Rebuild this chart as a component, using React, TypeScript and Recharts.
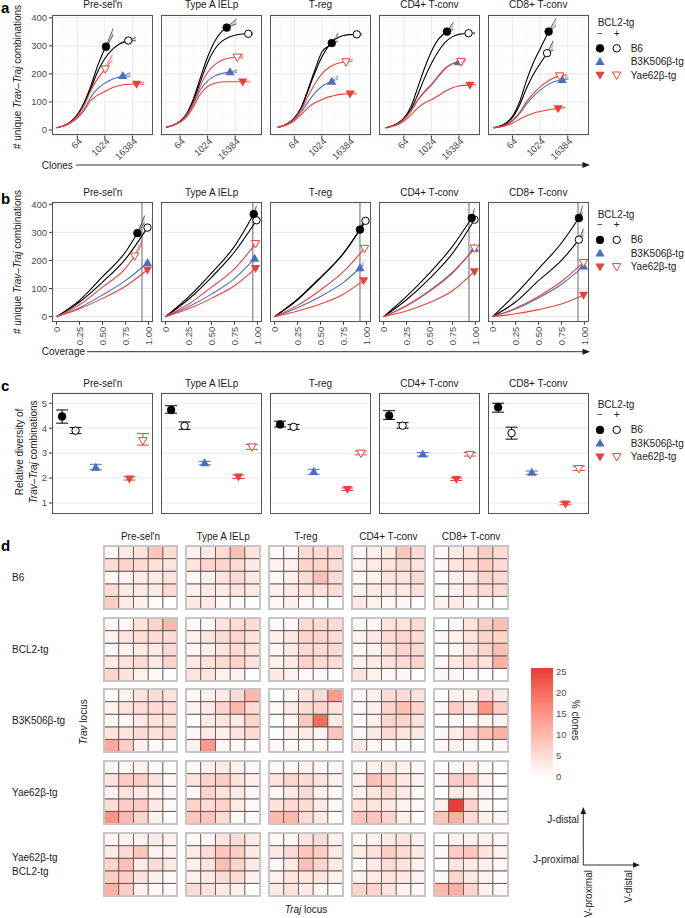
import React from "react";
import {
  ComposedChart, Line, Area, Scatter, XAxis, YAxis, CartesianGrid,
  ReferenceLine, ErrorBar, BarChart, Bar, Cell,
} from "recharts";

const FONT = "'Liberation Sans', Arial, Helvetica, sans-serif";
const BLACK = "#000000";
const BLUE = "#4A6EBD";
const RED = "#E8413A";
const TICK = "#4D4D4D";

const facetTitles = ["Pre-sel'n", "Type A IELp", "T-reg", "CD4+ T-conv", "CD8+ T-conv"];

// ---------- Panel a : log2(clones) vs unique Trav-Traj combinations ----------
const aB6neg = [
  [[3,8],[4,15],[5,29],[6,55],[7,98],[8,160],[9,232],[10,290],[10.16,297]],
  [[4,10],[5,17],[6,31],[7,60],[8,115],[9,190],[10,260],[11,315],[12,350],[12.77,365]],
  [[3.6,9],[4,12],[5,22],[6,42],[7,80],[8,145],[9,215],[10,278],[11,300],[11.44,310]],
  [[3.36,8],[4,12],[5,22],[6,42],[7,82],[8,150],[9,220],[10,280],[11,323],[12,346],[12.27,351]],
  [[3.24,8],[4,12],[5,24],[6,50],[7,100],[8,175],[9,240],[10,290],[11,340],[11.23,351]],
];
const aB6pos = [
  [[3,8],[4,15],[5,28],[6,53],[7,95],[8,150],[9,210],[10,255],[11,285],[12,305],[13,316],[13.4,319]],
  [[4,10],[5,17],[6,31],[7,58],[8,108],[9,175],[10,240],[11,287],[12,315],[13,330],[14,338],[15,342],[15.9,343]],
  [[3.6,9],[4,12],[5,22],[6,42],[7,78],[8,140],[9,205],[10,260],[11,300],[12,325],[13,336],[14,340],[15.07,341]],
  [[3.36,8],[4,12],[5,21],[6,40],[7,72],[8,125],[9,185],[10,237],[11,280],[12,312],[13,332],[14,341],[15.4,345]],
  [[3.24,8],[4,12],[5,23],[6,45],[7,88],[8,148],[9,198],[10,237],[11,274]],
];
const aB3K = [
  [[3,8],[4,14],[5,26],[6,45],[7,75],[8,118],[9,148],[10,167],[11,180],[12,188],[12.6,193]],
  [[4,10],[5,17],[6,29],[7,52],[8,95],[9,145],[10,175],[11,192],[12,201],[13,206],[13.25,207]],
  [[3.6,9],[4,12],[5,20],[6,37],[7,64],[8,100],[9,132],[10,155],[11,168],[11.44,173]],
  [[3.36,8],[4,12],[5,20],[6,38],[7,66],[8,105],[9,135],[10,160],[11,190],[12,218],[13,235],[13.95,242]],
  [[3.24,8],[4,11],[5,18],[6,33],[7,58],[8,92],[9,120],[10,142],[11,160],[12,172],[13.18,179]],
];
const aYaePos = [
  [[3,8],[4,15],[5,27],[6,50],[7,88],[8,143],[9,185],[10.06,218]],
  [[4,10],[5,17],[6,30],[7,55],[8,100],[9,160],[10,205],[11,232],[12,248],[13,256],[14.3,260]],
  [[3.6,9],[4,12],[5,21],[6,40],[7,72],[8,120],[9,165],[10,200],[11,222],[12,235],[13,241],[13.5,243]],
  [[3.36,8],[4,12],[5,20],[6,38],[7,67],[8,107],[9,138],[10,163],[11,193],[12,220],[13,236],[14.3,244]],
  [[3.24,8],[4,11],[5,19],[6,35],[7,62],[8,100],[9,130],[10,154],[11,172],[12,186],[12.83,193]],
];
const aYaeNeg = [
  [[3,8],[4,14],[5,25],[6,42],[7,70],[8,106],[9,125],[10,137],[11,150],[12,158],[13,162],[14.6,164]],
  [[4,10],[5,17],[6,28],[7,48],[8,85],[9,130],[10,155],[11,167],[12,171],[13,172],[15.1,172]],
  [[3.6,9],[4,12],[5,19],[6,33],[7,55],[8,80],[9,97],[10,108],[11,118],[12,124],[13,128],[14.1,129]],
  [[3.36,8],[4,11],[5,18],[6,32],[7,53],[8,78],[9,96],[10,108],[11,122],[12,138],[13,150],[14,157],[15.6,161]],
  [[3.24,8],[4,10],[5,15],[6,25],[7,38],[8,50],[9,60],[10,66],[11,71],[12,75],[12.6,77]],
];
// extrapolation bands [x, low, high]
const aBandB6neg = [[[10.7,315,332],[11.2,340,362]],[[13.5,372,382],[14.2,378,395]],[[12.35,315,345]],[[13.2,358,385]],[[12.3,372,398]]];
const aBandB6pos = [[[14.5,318,330]],[[16.6,340,348]],[[15.8,338,345]],[[16.36,343,348]],[[11.9,285,318]]];
const aBandB3K = [[[13.7,190,205]],[[14.3,205,215]],[[12.35,180,195]],[[14.6,238,248]],[[14.1,180,188]]];
const aBandYaePos = [[[10.6,235,250],[11.1,245,268]],[[15.15,255,272]],[[14.5,245,255]],[[15.0,242,250]],[[13.9,192,198]]];
const aBandYaeNeg = [[[15.7,162,172]],[[16.2,170,176]],[[15.07,127,133]],[[16.5,160,164]],[[13.66,78,82]]];
const aXLeft = [2.32, 3.23, 2.47, 2.39, 2.42];
const aXSpan = 14.67;
const aXTicks = [6, 10, 14];
const aXMinor = [4, 8, 12, 16];
const aYTicks = [0, 100, 200, 300, 400];
const aYMinor = [50, 150, 250, 350];

// ---------- Panel b : coverage vs unique combinations ----------
const bB6neg = [
  [[0,0],[0.25,58],[0.5,142],[0.75,230],[0.88,297]],
  [[0,0],[0.25,70],[0.5,155],[0.75,250],[0.96,365]],
  [[0,0],[0.25,62],[0.5,140],[0.75,225],[0.93,310]],
  [[0,0],[0.25,72],[0.5,155],[0.75,250],[0.96,351]],
  [[0,0],[0.25,80],[0.5,170],[0.75,262],[0.94,351]],
];
const bB6pos = [
  [[0,0],[0.25,52],[0.5,123],[0.75,205],[0.99,317]],
  [[0,0],[0.25,62],[0.5,140],[0.75,230],[0.99,343]],
  [[0,0],[0.25,60],[0.5,138],[0.75,225],[0.99,341]],
  [[0,0],[0.25,60],[0.5,135],[0.75,225],[0.99,345]],
  [[0,0],[0.25,52],[0.5,128],[0.75,200],[0.94,274]],
];
const bB3K = [
  [[0,0],[0.25,32],[0.5,77],[0.75,128],[0.99,192]],
  [[0,0],[0.25,35],[0.5,80],[0.75,135],[0.97,207]],
  [[0,0],[0.25,32],[0.5,72],[0.75,122],[0.93,173]],
  [[0,0],[0.25,40],[0.5,92],[0.75,158],[0.99,242]],
  [[0,0],[0.25,27],[0.5,66],[0.75,115],[0.99,179]],
];
const bYaePos = [
  [[0,0],[0.25,42],[0.5,105],[0.75,172],[0.85,216]],
  [[0,0],[0.25,45],[0.5,105],[0.75,170],[0.98,260]],
  [[0,0],[0.25,40],[0.5,95],[0.75,160],[0.98,243]],
  [[0,0],[0.25,38],[0.5,90],[0.75,155],[0.99,244]],
  [[0,0],[0.25,30],[0.5,72],[0.75,125],[0.99,193]],
];
const bYaeNeg = [
  [[0,0],[0.25,28],[0.5,65],[0.75,108],[0.99,167]],
  [[0,0],[0.25,28],[0.5,65],[0.75,110],[0.98,172]],
  [[0,0],[0.25,20],[0.5,45],[0.75,80],[0.97,129]],
  [[0,0],[0.25,20],[0.5,50],[0.75,92],[0.99,161]],
  [[0,0],[0.25,10],[0.5,25],[0.75,45],[0.99,77]],
];
const bBandB6neg = [[[0.96,335,360]],[[0.99,375,395]],[[0.97,325,345]],[[0.99,360,385]],[[0.98,370,395]]];
const bBandB6pos = [[],[],[],[],[[0.99,290,312]]];
const bBandB3K = [[],[],[[0.97,180,195]],[],[]];
const bBandYaePos = [[[0.93,255,272]],[],[],[],[]];
const bBandYaeNeg = [[],[],[],[],[]];
const bThreshold = [0.93, 0.95, 0.93, 0.93, 0.93];
const bXTicks = [0, 0.25, 0.5, 0.75, 1];

// ---------- Panel c : relative diversity [value, low, high] ----------
const cB6neg = [[4.47,4.2,4.73],[4.73,4.6,4.9],[4.15,4.05,4.28],[4.5,4.35,4.7],[4.84,4.64,5.0]];
const cB6pos = [[3.9,3.78,4.03],[4.09,3.95,4.25],[4.05,3.95,4.15],[4.1,4.0,4.22],[3.8,3.56,4.04]];
const cB3K = [[2.42,2.33,2.55],[2.6,2.53,2.67],[2.25,2.15,2.35],[2.95,2.88,3.02],[2.22,2.15,2.28]];
const cYaeNeg = [[1.97,1.92,2.05],[2.05,1.98,2.12],[1.55,1.5,1.6],[1.95,1.9,2.0],[0.97,0.93,1.03]];
const cYaePos = [[3.5,3.32,3.78],[3.25,3.15,3.35],[3.0,2.93,3.08],[2.95,2.88,3.02],[2.38,2.3,2.48]];
const cXPos: Record<string, number> = { "B6-": 0.8, "B6+": 1.2, "B3K-": 1.8, "Yae-": 2.8, "Yae+": 3.2 };
const cYTicks = [1, 2, 3, 4, 5];

// ---------- Panel d : % clones heatmaps (rows top=J-distal, cols left=V-proximal) ----------
const heatRowLabels = [["B6"], ["BCL2-tg"], ["B3K506β-tg"], ["Yae62β-tg"], ["Yae62β-tg", "BCL2-tg"]];
const heatB6 = [
  [[1,3,4,8,5],[5,6,5,4,4],[1,2,3,3,4],[5,3,3,3,5],[7,3,2,0.5,0]],
  [[2,3,5,9,4],[4,6,6,5,3],[1,2,4,5,3],[2,3,3,4,3],[3,3,1,1,0]],
  [[1,1,5,5,5],[2,2,6,6,5],[1,2,5,9,5],[2,3,4,4,5],[1,2,1,0,0]],
  [[1,2,3,8,5],[2,3,4,5,4],[1,2,4,4,5],[2,3,3,3,4],[3,2,1,1,0]],
  [[1,3,4,7,5],[1,4,5,7,5],[0,2,3,6,5],[1,2,4,5,5],[2,3,1,0.5,0]],
];
const heatBCL2 = [
  [[1,1,4,6,10],[2,4,5,5,5],[1,2,3,3,5],[3,4,5,3,6],[6,4,2,1,0]],
  [[1,1,4,5,5],[2,4,5,6,4],[1,2,4,5,4],[3,4,5,6,4],[4,4,2,2,0]],
  [[1,1,5,5,5],[2,3,6,6,5],[1,3,5,5,5],[2,3,6,5,5],[3,2,1,1,0]],
  [[1,1,4,4,5],[2,3,5,6,5],[1,2,4,6,5],[2,3,4,5,6],[4,2,1,1,0]],
  [[0,1,4,7,9],[1,2,4,6,6],[0,1,4,6,9],[1,3,5,4,11],[1,1,0.5,0.5,0]],
];
const heatB3K = [
  [[0.5,2,4,5,4],[2,4,5,5,5],[1,1,3,4,4],[4,4,5,4,5],[12,7,2,1,0]],
  [[1,2,3,5,10],[2,3,6,10,5],[0,3,4,3,6],[1,3,2,4,5],[2,14,1,1,0]],
  [[0,1,4,5,14],[1,3,5,6,4],[0,1,8,20,3],[0,2,3,2,8],[1,0.5,1,1,0]],
  [[1,2,5,5,4],[1,2,6,9,6],[0,2,6,6,4],[1,3,5,4,3],[3,1,1,0.5,0]],
  [[0,2,2,5,3],[1,7,4,15,7],[0,1,1,2,2],[1,3,6,9,11],[1,2,1,0.5,1]],
];
const heatYae = [
  [[1,1,2,1,0],[4,7,7,4,1],[2,4,3,2,1],[5,7,7,3,1],[15,10,6,2,0]],
  [[1,2,3,2,1],[4,6,7,4,2],[1,6,4,3,1],[6,5,6,3,1],[8,8,5,1,1]],
  [[1,1,2,1,1],[4,6,5,4,2],[1,3,5,2,1],[4,5,5,3,1],[10,10,5,3,0]],
  [[1,2,3,2,1],[2,9,6,3,2],[2,4,5,3,1],[4,4,3,2,1],[8,8,6,2,0]],
  [[0,1,2,1,0],[1,7,7,2,0],[0,3,2,1,0],[2,25,6,1,0],[8,11,5,2,1]],
];
const heatYaeBCL2 = [
  [[1,2,2,3,2],[3,5,8,2,2],[6,9,3,5,3],[7,7,4,2,1],[11,7,2,1,0.5]],
  [[1,1,4,5,3],[3,5,8,7,3],[2,4,9,6,3],[2,3,5,5,2],[5,4,3,2,0]],
  [[1,1,4,5,2],[3,5,8,7,3],[1,3,9,6,3],[2,4,4,4,2],[3,4,3,1,0]],
  [[1,2,3,4,2],[3,4,7,5,3],[1,3,5,4,2],[2,3,4,3,2],[6,6,4,2,1]],
  [[0,2,2,2,1],[1,7,8,4,2],[0,4,3,2,1],[1,6,3,2,0.5],[10,11,6,2,1]],
];
const heatAll = [heatB6, heatBCL2, heatB3K, heatYae, heatYaeBCL2];
const cbTicks = [0, 5, 10, 15, 20, 25];
const cbLimits: [number, number] = [-0.36, 25.83];

// ---------- styling/layout ----------
const SERIES = [
  { key: "B6+", color: BLACK, marker: "openCircle" },
  { key: "B6-", color: BLACK, marker: "circle" },
  { key: "B3K-", color: BLUE, marker: "triUp" },
  { key: "Yae+", color: RED, marker: "openTriDown" },
  { key: "Yae-", color: RED, marker: "triDown" },
];
const FACET_LEFT = [52.3, 161.2, 270.0, 378.9, 487.7];
const FACET_W = 101;
const HEAT_LEFT = [103.7, 186.3, 269.0, 351.6, 434.3];
const HEAT_TOP = [546, 617.7, 689.3, 761, 832.6];
const PAD = 7;

// Lab-space gradient white -> red (like ggplot scale_fill_gradient)
function toLin(c: number) { c /= 255; return c <= 0.04045 ? c / 12.92 : Math.pow((c + 0.055) / 1.055, 2.4); }
function fromLin(c: number) { const v = c <= 0.0031308 ? 12.92 * c : 1.055 * Math.pow(c, 1 / 2.4) - 0.055; return Math.round(Math.max(0, Math.min(1, v)) * 255); }
function labF(t: number) { return t > 0.008856 ? Math.cbrt(t) : 7.787 * t + 16 / 116; }
function labFi(t: number) { const t3 = t * t * t; return t3 > 0.008856 ? t3 : (t - 16 / 116) / 7.787; }
function rgbToLab(rgb: number[]) {
  const [r, g, b] = rgb.map(toLin);
  const X = (0.4124 * r + 0.3576 * g + 0.1805 * b) / 0.95047;
  const Y = 0.2126 * r + 0.7152 * g + 0.0722 * b;
  const Z = (0.0193 * r + 0.1192 * g + 0.9505 * b) / 1.08883;
  const fx = labF(X), fy = labF(Y), fz = labF(Z);
  return [116 * fy - 16, 500 * (fx - fy), 200 * (fy - fz)];
}
function labToRgb(lab: number[]) {
  const fy = (lab[0] + 16) / 116, fx = fy + lab[1] / 500, fz = fy - lab[2] / 200;
  const X = labFi(fx) * 0.95047, Y = labFi(fy), Z = labFi(fz) * 1.08883;
  const r = 3.2406 * X - 1.5372 * Y - 0.4986 * Z;
  const g = -0.9689 * X + 1.8758 * Y + 0.0415 * Z;
  const b = 0.0557 * X - 0.204 * Y + 1.057 * Z;
  return [fromLin(r), fromLin(g), fromLin(b)];
}
const LAB_LO = rgbToLab([255, 255, 255]);
const LAB_HI = rgbToLab([232, 65, 58]);
function heatColor(v: number) {
  const t = Math.max(0, Math.min(1, v / 25));
  const lab = LAB_LO.map((a, i) => a + (LAB_HI[i] - a) * t);
  const [r, g, b] = labToRgb(lab);
  return `rgb(${r},${g},${b})`;
}

function Marker({ kind, cx, cy, color }: { kind: string; cx: number; cy: number; color: string }) {
  if (kind === "circle") return <circle cx={cx} cy={cy} r={3.9} fill={color} stroke={color} strokeWidth={0.6} />;
  if (kind === "openCircle") return <circle cx={cx} cy={cy} r={3.7} fill="#fff" stroke={color} strokeWidth={1} />;
  if (kind === "triUp") return <polygon points={`${cx},${cy - 4.8} ${cx - 4.6},${cy + 3.2} ${cx + 4.6},${cy + 3.2}`} fill={color} />;
  if (kind === "triDown") return <polygon points={`${cx},${cy + 4.8} ${cx - 4.6},${cy - 3.2} ${cx + 4.6},${cy - 3.2}`} fill={color} />;
  return <polygon points={`${cx},${cy + 4.4} ${cx - 4.2},${cy - 3} ${cx + 4.2},${cy - 3}`} fill="#fff" stroke={color} strokeWidth={1} />;
}

function makeTick(kind: "rot45" | "rot90", fmt: (v: number) => string) {
  return (p: any) => {
    const ax = kind === "rot45" ? p.x + 3 : p.x;
    const ay = kind === "rot45" ? p.y - 1 : p.y;
    return (
      <text x={ax} y={ay} transform={`rotate(${kind === "rot45" ? -45 : -90} ${ax} ${ay})`} textAnchor="end"
        dy="0.35em" fontSize={9.5} fill={TICK} fontFamily={FONT}>
        {fmt(p.payload.value)}
      </text>
    );
  };
}

function bandColor(c: string) {
  return c === BLACK ? "#808080" : c;
}

type CurveProps = {
  left: number; top: number; h: number; showY: boolean;
  xDomain: [number, number]; yDomain: [number, number];
  xTicks: number[]; yTicks: number[]; xMinor: number[]; yMinor: number[];
  vGrid: boolean; vline?: number;
  curves: Record<string, number[][]>; bands: Record<string, number[][]>;
  tickKind: "rot45" | "rot90"; fmt: (v: number) => string;
};

function CurveFacet(p: CurveProps) {
  const yW = p.showY ? 42 : 0;
  const xH = 32;
  return (
    <div style={{ position: "absolute", left: p.left - yW, top: p.top - PAD }}>
      <ComposedChart width={FACET_W + yW} height={p.h + xH + PAD} margin={{ top: PAD, right: 0, bottom: 0, left: 0 }}>
        <CartesianGrid stroke="#EBEBEB" strokeWidth={1.1} vertical={p.vGrid} horizontal />
        {p.yMinor.map((v) => <ReferenceLine key={"ym" + v} y={v} stroke="#F4F4F4" strokeWidth={0.7} />)}
        {p.xMinor.map((v) => <ReferenceLine key={"xm" + v} x={v} stroke="#F4F4F4" strokeWidth={0.7} />)}
        <XAxis type="number" dataKey="x" domain={p.xDomain} allowDataOverflow ticks={p.xTicks} interval={0}
          tick={makeTick(p.tickKind, p.fmt)} tickSize={3} tickMargin={2} tickLine={{ stroke: "#333" }}
          axisLine={false} height={xH} />
        <YAxis type="number" domain={p.yDomain} allowDataOverflow ticks={p.yTicks} interval={0} hide={!p.showY}
          width={yW} tickSize={3} tickMargin={2} tickLine={{ stroke: "#333" }} axisLine={false}
          tick={{ fontSize: 9.5, fill: TICK, fontFamily: FONT }} />
        {p.vline !== undefined && <ReferenceLine x={p.vline} stroke="#666" strokeWidth={1} />}
        {SERIES.map((s) => {
          const c = p.curves[s.key];
          const last = c[c.length - 1];
          const b = p.bands[s.key];
          if (!b.length) return null;
          const data = [{ x: last[0], band: [last[1], last[1]] }, ...b.map((r) => ({ x: r[0], band: [r[1], r[2]] }))];
          return (
            <Area key={"b" + s.key} data={data} dataKey="band" type="monotone" fill={bandColor(s.color)}
              fillOpacity={0.35} stroke={s.color} strokeWidth={0.6} isAnimationActive={false} />
          );
        })}
        {SERIES.map((s) => (
          <Line key={"l" + s.key} data={p.curves[s.key].map((r) => ({ x: r[0], y: r[1] }))} dataKey="y"
            type="monotone" stroke={s.color} strokeWidth={1.1} dot={false} isAnimationActive={false} />
        ))}
        {SERIES.map((s) => {
          const c = p.curves[s.key];
          const last = c[c.length - 1];
          return (
            <Scatter key={"p" + s.key} data={[{ x: last[0], y: last[1] }]} dataKey="y" isAnimationActive={false}
              shape={(sp: any) => <Marker kind={s.marker} cx={sp.cx} cy={sp.cy} color={s.color} />} />
          );
        })}
      </ComposedChart>
      <div style={{ position: "absolute", left: yW, top: PAD, width: FACET_W, height: p.h, border: "1.2px solid #555",
        boxSizing: "border-box", pointerEvents: "none" }} />
    </div>
  );
}

function DiversityFacet({ idx, left, top, h }: { idx: number; left: number; top: number; h: number }) {
  const showY = idx === 0;
  const yW = showY ? 42 : 0;
  const src: Record<string, number[][]> = { "B6-": cB6neg, "B6+": cB6pos, "B3K-": cB3K, "Yae-": cYaeNeg, "Yae+": cYaePos };
  return (
    <div style={{ position: "absolute", left: left - yW, top: top - PAD }}>
      <ComposedChart width={FACET_W + yW} height={h + 2 * PAD} margin={{ top: PAD, right: 0, bottom: PAD, left: 0 }}>
        <CartesianGrid stroke="#EBEBEB" strokeWidth={1.1} vertical={false} />
        <XAxis type="number" dataKey="x" domain={[0.5, 3.5]} hide />
        <YAxis type="number" domain={[0.57, 5.41]} allowDataOverflow ticks={cYTicks} interval={0} hide={!showY}
          width={yW} tickSize={3} tickMargin={2} tickLine={{ stroke: "#333" }} axisLine={false}
          tick={{ fontSize: 9.5, fill: TICK, fontFamily: FONT }} />
        {SERIES.map((s) => {
          const v = src[s.key][idx];
          return (
            <Scatter key={s.key} data={[{ x: cXPos[s.key], y: v[0], err: [v[0] - v[1], v[2] - v[0]] }]} dataKey="y"
              isAnimationActive={false}
              shape={(sp: any) => <Marker kind={s.marker} cx={sp.cx} cy={sp.cy} color={s.color} />}>
              <ErrorBar dataKey="err" direction="y" width={6} stroke={s.color} strokeWidth={1} />
            </Scatter>
          );
        })}
      </ComposedChart>
      <div style={{ position: "absolute", left: yW, top: PAD, width: FACET_W, height: h, border: "1.2px solid #555",
        boxSizing: "border-box", pointerEvents: "none" }} />
    </div>
  );
}

function HeatGrid({ left, top, grid }: { left: number; top: number; grid: number[][] }) {
  const w = 73.6, h = 63;
  const data = [0, 1, 2, 3, 4].map((c) => ({ c, r0: 1, r1: 1, r2: 1, r3: 1, r4: 1 }));
  return (
    <div style={{ position: "absolute", left, top }}>
      <BarChart width={w} height={h} data={data} margin={{ top: 0, right: 0, bottom: 0, left: 0 }} barCategoryGap={0} barGap={0}>
        <XAxis dataKey="c" hide />
        <YAxis type="number" hide domain={[0, 5]} />
        {[0, 1, 2, 3, 4].map((k) => (
          <Bar key={k} dataKey={`r${k}`} stackId="s" isAnimationActive={false} stroke="#4A4A4A" strokeWidth={0.8}>
            {data.map((d, ci) => <Cell key={ci} fill={heatColor(grid[4 - k][ci])} />)}
          </Bar>
        ))}
      </BarChart>
      <div style={{ position: "absolute", left: -1, top: -1, width: w + 2, height: h + 2, border: "2px solid #C6C6C6",
        boxSizing: "border-box", pointerEvents: "none" }} />
    </div>
  );
}

function ColorBar() {
  const data = [{ k: "bar", v: [cbLimits[0], cbLimits[1]] }];
  const stops = [0, 2.5, 5, 7.5, 10, 12.5, 15, 17.5, 20, 22.5, 25];
  return (
    <div style={{ position: "absolute", left: 531, top: 668 - PAD }}>
      <BarChart width={60} height={110 + 2 * PAD} data={data} margin={{ top: PAD, right: 0, bottom: PAD, left: 0 }} barCategoryGap={0}>
        <defs>
          <linearGradient id="cbg" x1="0" y1="1" x2="0" y2="0">
            {stops.map((s) => (
              <stop key={s} offset={(s - cbLimits[0]) / (cbLimits[1] - cbLimits[0])} stopColor={heatColor(s)} />
            ))}
          </linearGradient>
        </defs>
        <XAxis dataKey="k" hide />
        <YAxis orientation="right" type="number" width={38} domain={cbLimits} allowDataOverflow ticks={cbTicks}
          interval={0} tickLine={false} axisLine={false} tickSize={0} tickMargin={3}
          tick={{ fontSize: 9.5, fill: TICK, fontFamily: FONT }} />
        <Bar dataKey="v" fill="url(#cbg)" isAnimationActive={false} />
      </BarChart>
    </div>
  );
}

function LegendBlock({ y }: { y: number }) {
  const rows = [y + 25.6, y + 39, y + 52.3];
  return (
    <g fontFamily={FONT} fontSize={10} fill="#1A1A1A">
      <text x={597.7} y={y + 3.5}>BCL2-tg</text>
      <text x={600} y={y + 13.8} textAnchor="middle">−</text>
      <text x={616.7} y={y + 13.8} textAnchor="middle">+</text>
      <Marker kind="circle" cx={600} cy={rows[0]} color={BLACK} />
      <Marker kind="openCircle" cx={616.7} cy={rows[0]} color={BLACK} />
      <text x={630.7} y={rows[0] + 3.5}>B6</text>
      <Marker kind="triUp" cx={600} cy={rows[1]} color={BLUE} />
      <text x={630.7} y={rows[1] + 3.5}>B3K506β-tg</text>
      <Marker kind="triDown" cx={600} cy={rows[2]} color={RED} />
      <Marker kind="openTriDown" cx={616.7} cy={rows[2]} color={RED} />
      <text x={630.7} y={rows[2] + 3.5}>Yae62β-tg</text>
    </g>
  );
}

function YTitle({ x, y, lines }: { x: number; y: number; lines: React.ReactNode[] }) {
  return (
    <g>
      {lines.map((l, i) => (
        <text key={i} transform={`translate(${x + i * 13.5}, ${y}) rotate(-90)`} textAnchor="middle"
          fontSize={10} fontFamily={FONT} fill="#1A1A1A">{l}</text>
      ))}
    </g>
  );
}

const TravTraj = (
  <>
    <tspan fontStyle="italic">Trav</tspan>–<tspan fontStyle="italic">Traj</tspan>
  </>
);

export default function App() {
  const aCurves = (i: number) => ({ "B6-": aB6neg[i], "B6+": aB6pos[i], "B3K-": aB3K[i], "Yae-": aYaeNeg[i], "Yae+": aYaePos[i] });
  const aBands = (i: number) => ({ "B6-": aBandB6neg[i], "B6+": aBandB6pos[i], "B3K-": aBandB3K[i], "Yae-": aBandYaeNeg[i], "Yae+": aBandYaePos[i] });
  const bCurves = (i: number) => ({ "B6-": bB6neg[i], "B6+": bB6pos[i], "B3K-": bB3K[i], "Yae-": bYaeNeg[i], "Yae+": bYaePos[i] });
  const bBands = (i: number) => ({ "B6-": bBandB6neg[i], "B6+": bBandB6pos[i], "B3K-": bBandB3K[i], "Yae-": bBandYaeNeg[i], "Yae+": bBandYaePos[i] });

  return (
    <div style={{ position: "absolute", left: 0, top: 0, width: 685, height: 918, background: "#fff", overflow: "hidden", fontFamily: FONT }}>
      {facetTitles.map((t, i) => (
        <CurveFacet key={"a" + i} left={FACET_LEFT[i]} top={14.7} h={120.6} showY={i === 0}
          xDomain={[aXLeft[i], aXLeft[i] + aXSpan]} yDomain={[-20, 410]} xTicks={aXTicks} yTicks={aYTicks}
          xMinor={aXMinor} yMinor={aYMinor} vGrid curves={aCurves(i)} bands={aBands(i)} tickKind="rot45"
          fmt={(v) => String(Math.round(Math.pow(2, v)))} />
      ))}
      {facetTitles.map((t, i) => (
        <CurveFacet key={"b" + i} left={FACET_LEFT[i]} top={202} h={119.7} showY={i === 0}
          xDomain={[-0.05, 1.05]} yDomain={[-18, 408]} xTicks={bXTicks} yTicks={aYTicks}
          xMinor={[]} yMinor={[]} vGrid={false} vline={bThreshold[i]} curves={bCurves(i)} bands={bBands(i)}
          tickKind="rot90" fmt={(v) => (v === 0 ? "0" : v.toFixed(2))} />
      ))}
      {facetTitles.map((t, i) => (
        <DiversityFacet key={"c" + i} idx={i} left={FACET_LEFT[i]} top={393.3} h={120.7} />
      ))}
      {heatAll.map((row, r) => row.map((g, c) => (
        <HeatGrid key={`h${r}-${c}`} left={HEAT_LEFT[c]} top={HEAT_TOP[r]} grid={g} />
      )))}
      <ColorBar />

      <svg width={685} height={918} style={{ position: "absolute", left: 0, top: 0, pointerEvents: "none" }}>
        <g fontFamily={FONT} fontWeight="bold" fontSize={15} fill="#000">
          <text x={1} y={12.5}>a</text>
          <text x={1} y={204}>b</text>
          <text x={1} y={390.5}>c</text>
          <text x={1} y={551}>d</text>
        </g>
        <g fontFamily={FONT} fontSize={10} fill="#1A1A1A" textAnchor="middle">
          {facetTitles.map((t, i) => <text key={"ta" + i} x={FACET_LEFT[i] + FACET_W / 2} y={8}>{t}</text>)}
          {facetTitles.map((t, i) => <text key={"tb" + i} x={FACET_LEFT[i] + FACET_W / 2} y={196}>{t}</text>)}
          {facetTitles.map((t, i) => <text key={"tc" + i} x={FACET_LEFT[i] + FACET_W / 2} y={387}>{t}</text>)}
          {facetTitles.map((t, i) => <text key={"td" + i} x={HEAT_LEFT[i] + 36.8} y={540}>{t}</text>)}
        </g>
        <YTitle x={20.5} y={77} lines={[<>{"# unique "}{TravTraj}{" combinations"}</>]} />
        <YTitle x={20.5} y={262} lines={[<>{"# unique "}{TravTraj}{" combinations"}</>]} />
        <YTitle x={23} y={452} lines={[<>Relative diversity of</>, <>{TravTraj}{" combinations"}</>]} />
        <g fontFamily={FONT} fontSize={10} fill="#1A1A1A">
          <text x={41.7} y={168.5}>Clones</text>
          <line x1={76} y1={165} x2={584} y2={165} stroke="#1A1A1A" strokeWidth={0.9} />
          <polygon points="590,165 582.5,162 582.5,168" fill="#1A1A1A" />
          <text x={41.7} y={355.2}>Coverage</text>
          <line x1={87} y1={351.7} x2={584} y2={351.7} stroke="#1A1A1A" strokeWidth={0.9} />
          <polygon points="590,351.7 582.5,348.7 582.5,354.7" fill="#1A1A1A" />
        </g>
        <LegendBlock y={22.7} />
        <LegendBlock y={214.3} />
        <LegendBlock y={404.3} />
        <g fontFamily={FONT} fontSize={10} fill="#1A1A1A">
          {heatRowLabels.map((ls, r) => ls.map((l, j) => (
            <text key={`rl${r}-${j}`} x={12} y={HEAT_TOP[r] + 31.5 + 3.5 + (j - (ls.length - 1) / 2) * 14}>{l}</text>
          )))}
          <text transform="translate(86.5, 722) rotate(-90)" textAnchor="middle">
            <tspan fontStyle="italic">Trav</tspan> locus
          </text>
          <text x={306} y={912.5} textAnchor="middle">
            <tspan fontStyle="italic">Traj</tspan> locus
          </text>
          <text transform="translate(571.5, 720) rotate(90)" textAnchor="middle">% clones</text>
        </g>
        <g fontFamily={FONT} fontSize={10} fill="#1A1A1A">
          <line x1={583.3} y1={865} x2={583.3} y2={812} stroke="#1A1A1A" strokeWidth={0.9} />
          <polygon points="583.3,807 580.5,814 586.1,814" fill="#1A1A1A" />
          <line x1={583.3} y1={865} x2={635} y2={865} stroke="#1A1A1A" strokeWidth={0.9} />
          <polygon points="640,865 633,862.2 633,867.8" fill="#1A1A1A" />
          <text x={579} y={823} textAnchor="end">J-distal</text>
          <text x={579} y={862.8} textAnchor="end">J-proximal</text>
          <text transform="translate(592, 870) rotate(-90)" textAnchor="end">V-proximal</text>
          <text transform="translate(632, 870) rotate(-90)" textAnchor="end">V-distal</text>
        </g>
      </svg>
    </div>
  );
}
